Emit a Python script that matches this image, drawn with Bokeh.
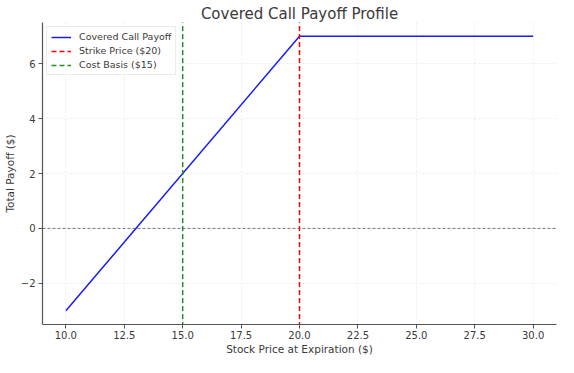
from bokeh.plotting import figure
from bokeh.models import Range1d, FixedTicker, Span, Legend, LegendItem
from bokeh.embed import file_html
from bokeh.resources import INLINE

# Data
stock_price = [10.0, 20.0, 30.0]
payoff = [-3.0, 7.0, 7.0]
strike_price = 20.0
cost_basis = 15.0
x_ticks = [10.0, 12.5, 15.0, 17.5, 20.0, 22.5, 25.0, 27.5, 30.0]
x_tick_labels = ["10.0", "12.5", "15.0", "17.5", "20.0", "22.5", "25.0", "27.5", "30.0"]
y_ticks = [-2, 0, 2, 4, 6]
y_tick_labels = ["\u22122", "0", "2", "4", "6"]

FONT = "DejaVu Sans"
TXT = "#3a3a3a"

p = figure(width=558, height=357, output_backend="svg", toolbar_location=None,
           x_range=Range1d(9, 31), y_range=Range1d(-3.5, 7.5),
           min_border_left=42, min_border_right=2, min_border_bottom=30, min_border_top=22)
p.title.text = "Covered Call Payoff Profile"
p.title.align = "center"
p.title.text_font = FONT
p.title.text_font_size = "15px"
p.title.text_font_style = "normal"
p.title.text_color = TXT
p.title.standoff = 0
p.title.offset = 0
p.outline_line_color = None
p.background_fill_color = "white"
p.border_fill_color = "white"

for ax in (p.xaxis[0], p.yaxis[0]):
    ax.axis_line_color = "#555555"
    ax.axis_line_width = 1.2
    ax.major_tick_line_color = "#555555"
    ax.major_tick_out = 4
    ax.major_tick_in = 0
    ax.minor_tick_line_color = None
    ax.major_label_text_font = FONT
    ax.major_label_text_font_size = "10px"
    ax.major_label_text_color = TXT
    ax.axis_label_text_font = FONT
    ax.axis_label_text_font_size = "10.5px"
    ax.axis_label_text_font_style = "normal"
    ax.axis_label_text_color = TXT

p.xaxis.axis_label = "Stock Price at Expiration ($)"
p.yaxis.axis_label = "Total Payoff ($)"
p.xaxis.ticker = FixedTicker(ticks=x_ticks)
p.yaxis.ticker = FixedTicker(ticks=y_ticks)
p.xaxis.major_label_overrides = {t: l for t, l in zip(x_ticks, x_tick_labels)}
p.yaxis.major_label_overrides = {t: l for t, l in zip(y_ticks, y_tick_labels)}
p.xaxis.axis_label_standoff = 1
p.yaxis.axis_label_standoff = 2
p.xaxis.major_label_standoff = 2
p.yaxis.major_label_standoff = 3

for g in (p.xgrid[0], p.ygrid[0]):
    g.grid_line_color = "#e6e6e6"
    g.grid_line_dash = "2 2"
    g.grid_line_width = 0.8

zero = Span(location=0, dimension="width", line_color="#555555", line_dash="3 2", line_width=0.8)
p.add_layout(zero)

r1 = p.line(stock_price, payoff, line_color="#1a1aff", line_width=1.5)
r2 = p.line([strike_price, strike_price], [-10, 20], line_color="red", line_width=1.5, line_dash="5 3")
r3 = p.line([cost_basis, cost_basis], [-10, 20], line_color="#1f8f1f", line_width=1.5, line_dash="5 3")

legend = Legend(items=[
    LegendItem(label="Covered Call Payoff", renderers=[r1]),
    LegendItem(label="Strike Price ($20)", renderers=[r2]),
    LegendItem(label="Cost Basis ($15)", renderers=[r3]),
], location="top_left")
legend.label_text_font = FONT
legend.label_text_font_size = "9.5px"
legend.label_text_color = TXT
legend.border_line_color = "#d8d8d8"
legend.border_line_width = 1
legend.background_fill_alpha = 0.85
legend.glyph_width = 20
legend.glyph_height = 10
legend.label_height = 10
legend.spacing = 3
legend.padding = 4
legend.margin = 4
legend.label_standoff = 8
p.add_layout(legend)

open("out.html", "w").write(file_html(p, INLINE))
